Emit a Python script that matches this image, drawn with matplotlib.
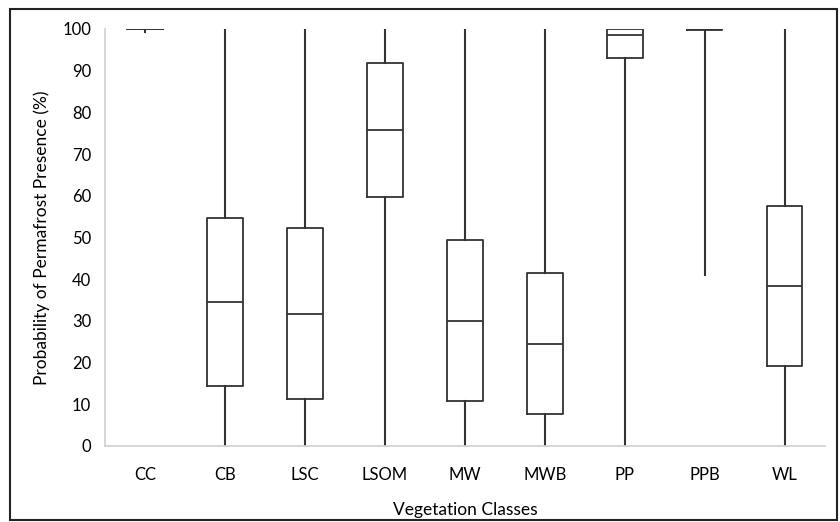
import matplotlib
matplotlib.use("Agg")
import matplotlib.pyplot as plt
from matplotlib.patches import Rectangle

plt.rcParams['font.family'] = ['Lato', 'DejaVu Sans']

classes = ['CC', 'CB', 'LSC', 'LSOM', 'MW', 'MWB', 'PP', 'PPB', 'WL']
whislo = [99.3, 0, 0, 0, 0, 0, 0, 41.0, 0]
q1 = [100, 14.4, 11.3, 59.7, 10.8, 7.6, 93.1, 99.7, 19.3]
med = [100, 34.5, 31.6, 75.7, 30.0, 24.4, 98.5, 100, 38.4]
q3 = [100, 54.6, 52.2, 91.8, 49.3, 41.5, 100, 100, 57.5]
whishi = [100, 100, 100, 100, 100, 100, 100, 100, 100]

stats = []
for i, c in enumerate(classes):
    stats.append({'label': c, 'whislo': whislo[i], 'q1': q1[i], 'med': med[i],
                  'q3': q3[i], 'whishi': whishi[i], 'fliers': []})

fig = plt.figure(figsize=(8.4, 5.22), dpi=100)
ax = fig.add_axes([0.125, 0.1456, 0.857, 0.799])

lc = '#333333'
ax.bxp(stats, widths=0.44, showfliers=False, showcaps=False,
       boxprops=dict(color=lc, linewidth=1.3),
       medianprops=dict(color=lc, linewidth=1.3),
       whiskerprops=dict(color=lc, linewidth=1.5))

ax.set_ylim(0, 100)
ax.set_xlim(0.5, 9.5)
ax.set_yticks(range(0, 101, 10))
ax.tick_params(length=0, labelsize=12, colors='black')
ax.tick_params(axis='x', pad=15)
ax.tick_params(axis='y', pad=10)
for s in ['top', 'right']:
    ax.spines[s].set_visible(False)
ax.spines['left'].set_color('#d0d0d0')
ax.spines['bottom'].set_color('#d0d0d0')
ax.spines['left'].set_linewidth(1.2)
ax.spines['bottom'].set_linewidth(1.2)

ax.set_ylabel('Probability of Permafrost Presence (%)', fontsize=12.5, labelpad=9)
ax.set_xlabel('Vegetation Classes', fontsize=12.5, labelpad=14)

fig.patches.append(Rectangle((10 / 840, 2 / 522), 827 / 840, 511 / 522,
                             transform=fig.transFigure, fill=False,
                             edgecolor='#222222', linewidth=1.5))

fig.savefig('out.png', dpi=100)
